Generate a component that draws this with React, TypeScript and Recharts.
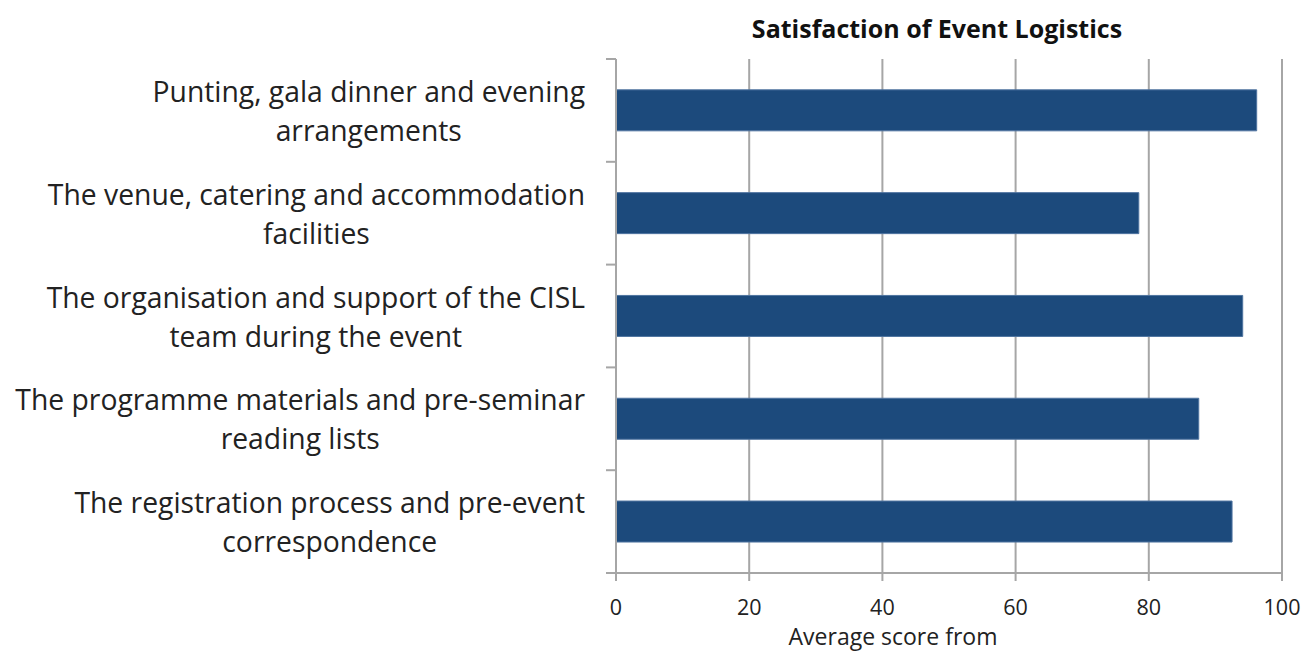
import { Bar, BarChart, CartesianGrid, XAxis, YAxis } from "recharts";

const categories = [
  "Punting, gala dinner and evening\narrangements",
  "The venue, catering and accommodation\nfacilities",
  "The organisation and support of the CISL\nteam during the event",
  "The programme materials and pre-seminar\nreading lists",
  "The registration process and pre-event\ncorrespondence",
];
const scores = [96.2, 78.5, 94.1, 87.5, 92.5];
const xTicks = [0, 20, 40, 60, 80, 100];

const data = categories.map((name, i) => ({ name, score: scores[i] }));

const FONT = "'Open Sans', 'DejaVu Sans', sans-serif";
const LABEL_SIZE = 28.3;
const GRID = "#a6a6a6";

document.body.style.margin = "0";

let ctx: CanvasRenderingContext2D | null = null;
function textWidth(s: string): number {
  if (!ctx) ctx = document.createElement("canvas").getContext("2d");
  if (!ctx) return s.length * 14;
  ctx.font = `${LABEL_SIZE}px ${FONT}`;
  return ctx.measureText(s).width;
}

function CategoryTick(props: any) {
  const { x, y, payload, index, visibleTicksCount } = props;
  const lines: string[] = String(payload.value).split("\n");
  const maxW = Math.max(...lines.map(textWidth));
  // labels are centred blocks whose right edge sits against the axis
  const cx = x - maxW / 2;
  const half = payload.offset ?? 51.4;
  const axisX = x + 31;
  return (
    <g>
      {lines.map((l, i) => (
        <text
          key={i}
          x={cx}
          y={y + (i - (lines.length - 1) / 2) * 39}
          textAnchor="middle"
          dominantBaseline="central"
          fontSize={LABEL_SIZE}
          fontFamily={FONT}
          fill="#222"
        >
          {l}
        </text>
      ))}
      {/* tick marks sit on the band boundaries, not the band centres */}
      <line x1={axisX - 10} x2={axisX} y1={y - half} y2={y - half} stroke={GRID} strokeWidth={2} />
      {index === visibleTicksCount - 1 && (
        <line x1={axisX - 10} x2={axisX} y1={y + half} y2={y + half} stroke={GRID} strokeWidth={2} />
      )}
    </g>
  );
}

export default function App() {
  return (
    <BarChart
      width={1306}
      height={652}
      data={data}
      layout="vertical"
      margin={{ top: 59, right: 24, bottom: 0, left: 0 }}
      barCategoryGap="30%"
    >
      <text x={937} y={28} textAnchor="middle" dominantBaseline="central" fontSize={25} fontWeight="bold" fontFamily={FONT} fill="#111">
        Satisfaction of Event Logistics
      </text>
      <CartesianGrid horizontal={false} stroke={GRID} strokeWidth={2} />
      <XAxis
        type="number"
        domain={[0, 100]}
        ticks={xTicks}
        interval={0}
        height={79}
        tickSize={8}
        tickMargin={19}
        axisLine={{ stroke: GRID, strokeWidth: 2 }}
        tickLine={{ stroke: GRID, strokeWidth: 2 }}
        tick={{ fontSize: 21.5, fontFamily: FONT, fill: "#222" }}
      />
      <YAxis
        type="category"
        dataKey="name"
        width={616}
        tickSize={10}
        tickMargin={21}
        interval={0}
        tickLine={false}
        axisLine={{ stroke: GRID, strokeWidth: 2 }}
        tick={<CategoryTick />}
      />
      <Bar dataKey="score" fill="#1c4a7c" stroke="#4f74a0" strokeWidth={1} isAnimationActive={false} />
      <text x={893} y={636} textAnchor="middle" dominantBaseline="central" fontSize={23} fontFamily={FONT} fill="#222">
        Average score from
      </text>
    </BarChart>
  );
}
